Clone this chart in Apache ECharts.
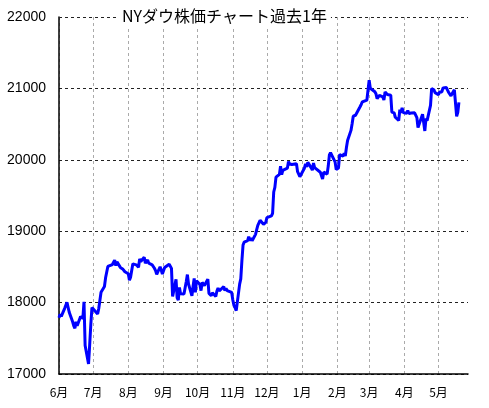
<!DOCTYPE html>
<html><head><meta charset="utf-8">
<script src="https://cdn.jsdelivr.net/npm/echarts@6/dist/echarts.min.js"></script>
<style>html,body{margin:0;padding:0;background:#fff}#c{width:489px;height:408px}</style>
</head><body><div id="c"></div>
<script>
const titleText = 'NYダウ株価チャート過去1年';
const yTicks = [17000, 18000, 19000, 20000, 21000, 22000];
const dates = [
'2016-06-01','2016-06-02','2016-06-03','2016-06-06','2016-06-07','2016-06-08','2016-06-09','2016-06-10',
'2016-06-13','2016-06-14','2016-06-15','2016-06-16','2016-06-17','2016-06-20','2016-06-21','2016-06-22',
'2016-06-23','2016-06-24','2016-06-27','2016-06-28','2016-06-29','2016-06-30',
'2016-07-01','2016-07-05','2016-07-06','2016-07-07','2016-07-08','2016-07-11','2016-07-12','2016-07-13',
'2016-07-14','2016-07-15','2016-07-18','2016-07-19','2016-07-20','2016-07-21','2016-07-22','2016-07-25',
'2016-07-26','2016-07-27','2016-07-28','2016-07-29',
'2016-08-01','2016-08-02','2016-08-03','2016-08-04','2016-08-05','2016-08-08','2016-08-09','2016-08-10',
'2016-08-11','2016-08-12','2016-08-15','2016-08-16','2016-08-17','2016-08-18','2016-08-19','2016-08-22',
'2016-08-23','2016-08-24','2016-08-25','2016-08-26','2016-08-29','2016-08-30','2016-08-31',
'2016-09-01','2016-09-02','2016-09-06','2016-09-07','2016-09-08','2016-09-09','2016-09-12','2016-09-13',
'2016-09-14','2016-09-15','2016-09-16','2016-09-19','2016-09-20','2016-09-21','2016-09-22','2016-09-23',
'2016-09-26','2016-09-27','2016-09-28','2016-09-29','2016-09-30',
'2016-10-03','2016-10-04','2016-10-05','2016-10-06','2016-10-07','2016-10-10','2016-10-11','2016-10-12',
'2016-10-13','2016-10-14','2016-10-17','2016-10-18','2016-10-19','2016-10-20','2016-10-21','2016-10-24',
'2016-10-25','2016-10-26','2016-10-27','2016-10-28','2016-10-31',
'2016-11-01','2016-11-02','2016-11-03','2016-11-04','2016-11-07','2016-11-08','2016-11-09','2016-11-10',
'2016-11-11','2016-11-14','2016-11-15','2016-11-16','2016-11-17','2016-11-18','2016-11-21','2016-11-22',
'2016-11-23','2016-11-25','2016-11-28','2016-11-29','2016-11-30',
'2016-12-01','2016-12-02','2016-12-05','2016-12-06','2016-12-07','2016-12-08','2016-12-09','2016-12-12',
'2016-12-13','2016-12-14','2016-12-15','2016-12-16','2016-12-19','2016-12-20','2016-12-21','2016-12-22',
'2016-12-23','2016-12-27','2016-12-28','2016-12-29','2016-12-30',
'2017-01-03','2017-01-04','2017-01-05','2017-01-06','2017-01-09','2017-01-10','2017-01-11','2017-01-12',
'2017-01-13','2017-01-17','2017-01-18','2017-01-19','2017-01-20','2017-01-23','2017-01-24','2017-01-25',
'2017-01-26','2017-01-27','2017-01-30','2017-01-31',
'2017-02-01','2017-02-02','2017-02-03','2017-02-06','2017-02-07','2017-02-08','2017-02-09','2017-02-10',
'2017-02-13','2017-02-14','2017-02-15','2017-02-16','2017-02-17','2017-02-21','2017-02-22','2017-02-23',
'2017-02-24','2017-02-27','2017-02-28',
'2017-03-01','2017-03-02','2017-03-03','2017-03-06','2017-03-07','2017-03-08','2017-03-09','2017-03-10',
'2017-03-13','2017-03-14','2017-03-15','2017-03-16','2017-03-17','2017-03-20','2017-03-21','2017-03-22',
'2017-03-23','2017-03-24','2017-03-27','2017-03-28','2017-03-29','2017-03-30','2017-03-31',
'2017-04-03','2017-04-04','2017-04-05','2017-04-06','2017-04-07','2017-04-10','2017-04-11','2017-04-12',
'2017-04-13','2017-04-17','2017-04-18','2017-04-19','2017-04-20','2017-04-21','2017-04-24','2017-04-25',
'2017-04-26','2017-04-27','2017-04-28',
'2017-05-01','2017-05-02','2017-05-03','2017-05-04','2017-05-05','2017-05-08','2017-05-09','2017-05-10',
'2017-05-11','2017-05-12','2017-05-15','2017-05-16','2017-05-17','2017-05-18','2017-05-19'
];
const closes = [
17789,17838,17807,17920,17938,18005,17985,17865,
17732,17675,17640,17733,17675,17804,17829,17780,
18011,17400,17140,17409,17694,17930,
17949,17840,17918,17895,18146,18226,18347,18372,
18506,18516,18533,18559,18595,18517,18570,18493,
18473,18472,18456,18432,
18404,18313,18355,18352,18543,18529,18533,18495,
18613,18576,18636,18552,18573,18597,18552,18529,
18547,18481,18448,18395,18502,18454,18400,
18419,18492,18538,18526,18479,18085,18325,18066,
18034,18212,18123,18120,18130,18293,18392,18261,
18094,18228,18339,18143,18308,
18253,18168,18281,18269,18240,18329,18128,18144,
18098,18138,18086,18162,18202,18162,18145,18223,
18169,18199,18169,18161,18142,
18037,17959,17930,17888,18259,18332,18589,18807,
18847,18869,18923,18868,18903,18867,18956,19023,
19083,19152,19097,19121,19123,
19191,19170,19216,19251,19549,19614,19757,19796,
19911,19792,19852,19843,19883,19975,19942,19918,
19934,19946,19833,19819,19763,
19882,19942,19899,19964,19887,19855,19954,19891,
19886,19826,19804,19732,19827,19799,19912,20068,
20100,20093,19971,19864,
19890,19884,20071,20052,20090,20054,20172,20269,
20412,20504,20611,20619,20624,20743,20775,20810,
20821,20837,20812,
21115,21002,21005,20954,20924,20855,20858,20903,
20881,20837,20950,20934,20914,20905,20668,20661,
20656,20596,20550,20701,20659,20728,20663,
20650,20689,20648,20662,20656,20658,20651,20591,
20453,20637,20523,20404,20578,20548,20763,20996,
20975,20981,20941,
20913,20950,20957,20951,21007,21012,20975,20943,
20919,20896,20981,20980,20607,20663,20804
];
const xMin = '2016-06-01';
const xMax = '2017-05-27';

const chart = echarts.init(document.getElementById('c'));
const DAY = 86400000;
chart.setOption({
  animation: false,
  backgroundColor: '#fff',
  title: {
    text: titleText,
    left: 118, top: 6,
    padding: [2, 4],
    backgroundColor: '#fff',
    textStyle: {fontFamily: 'Noto Sans CJK JP', fontSize: 16, fontWeight: 'normal', color: '#000'}
  },
  grid: {left: 59, top: 17, width: 409, height: 357},
  xAxis: {
    type: 'time',
    min: xMin, max: xMax,
    minInterval: 28 * DAY, maxInterval: 31 * DAY,
    axisLine: {lineStyle: {color: '#000', width: 1.5}},
    axisTick: {show: false},
    axisLabel: {
      color: '#000', fontFamily: 'Noto Sans CJK JP', fontSize: 12, margin: 12,
      showMinLabel: true, showMaxLabel: false,
      formatter: function (v) { return (new Date(v).getMonth() + 1) + '月'; }
    },
    splitLine: {show: true, showMinLine: false, showMaxLine: false,
      lineStyle: {color: '#aaa', type: [3, 3], width: 1}}
  },
  yAxis: {
    type: 'value', min: yTicks[0], max: yTicks[yTicks.length - 1], interval: 1000,
    axisLine: {show: true, lineStyle: {color: '#000', width: 1.5}},
    axisTick: {show: false},
    axisLabel: {color: '#000', fontFamily: '"Liberation Sans", Arial, sans-serif', fontSize: 14, margin: 13,
      formatter: function (v) { return String(v); }},
    splitLine: {show: true, lineStyle: {color: '#222', type: [3, 3], width: 1}}
  },
  series: [{
    type: 'line',
    data: dates.map((d, i) => [d, closes[i]]),
    showSymbol: false,
    lineStyle: {color: '#0000ff', width: 3},
    z: 3
  }]
});
</script></body></html>
